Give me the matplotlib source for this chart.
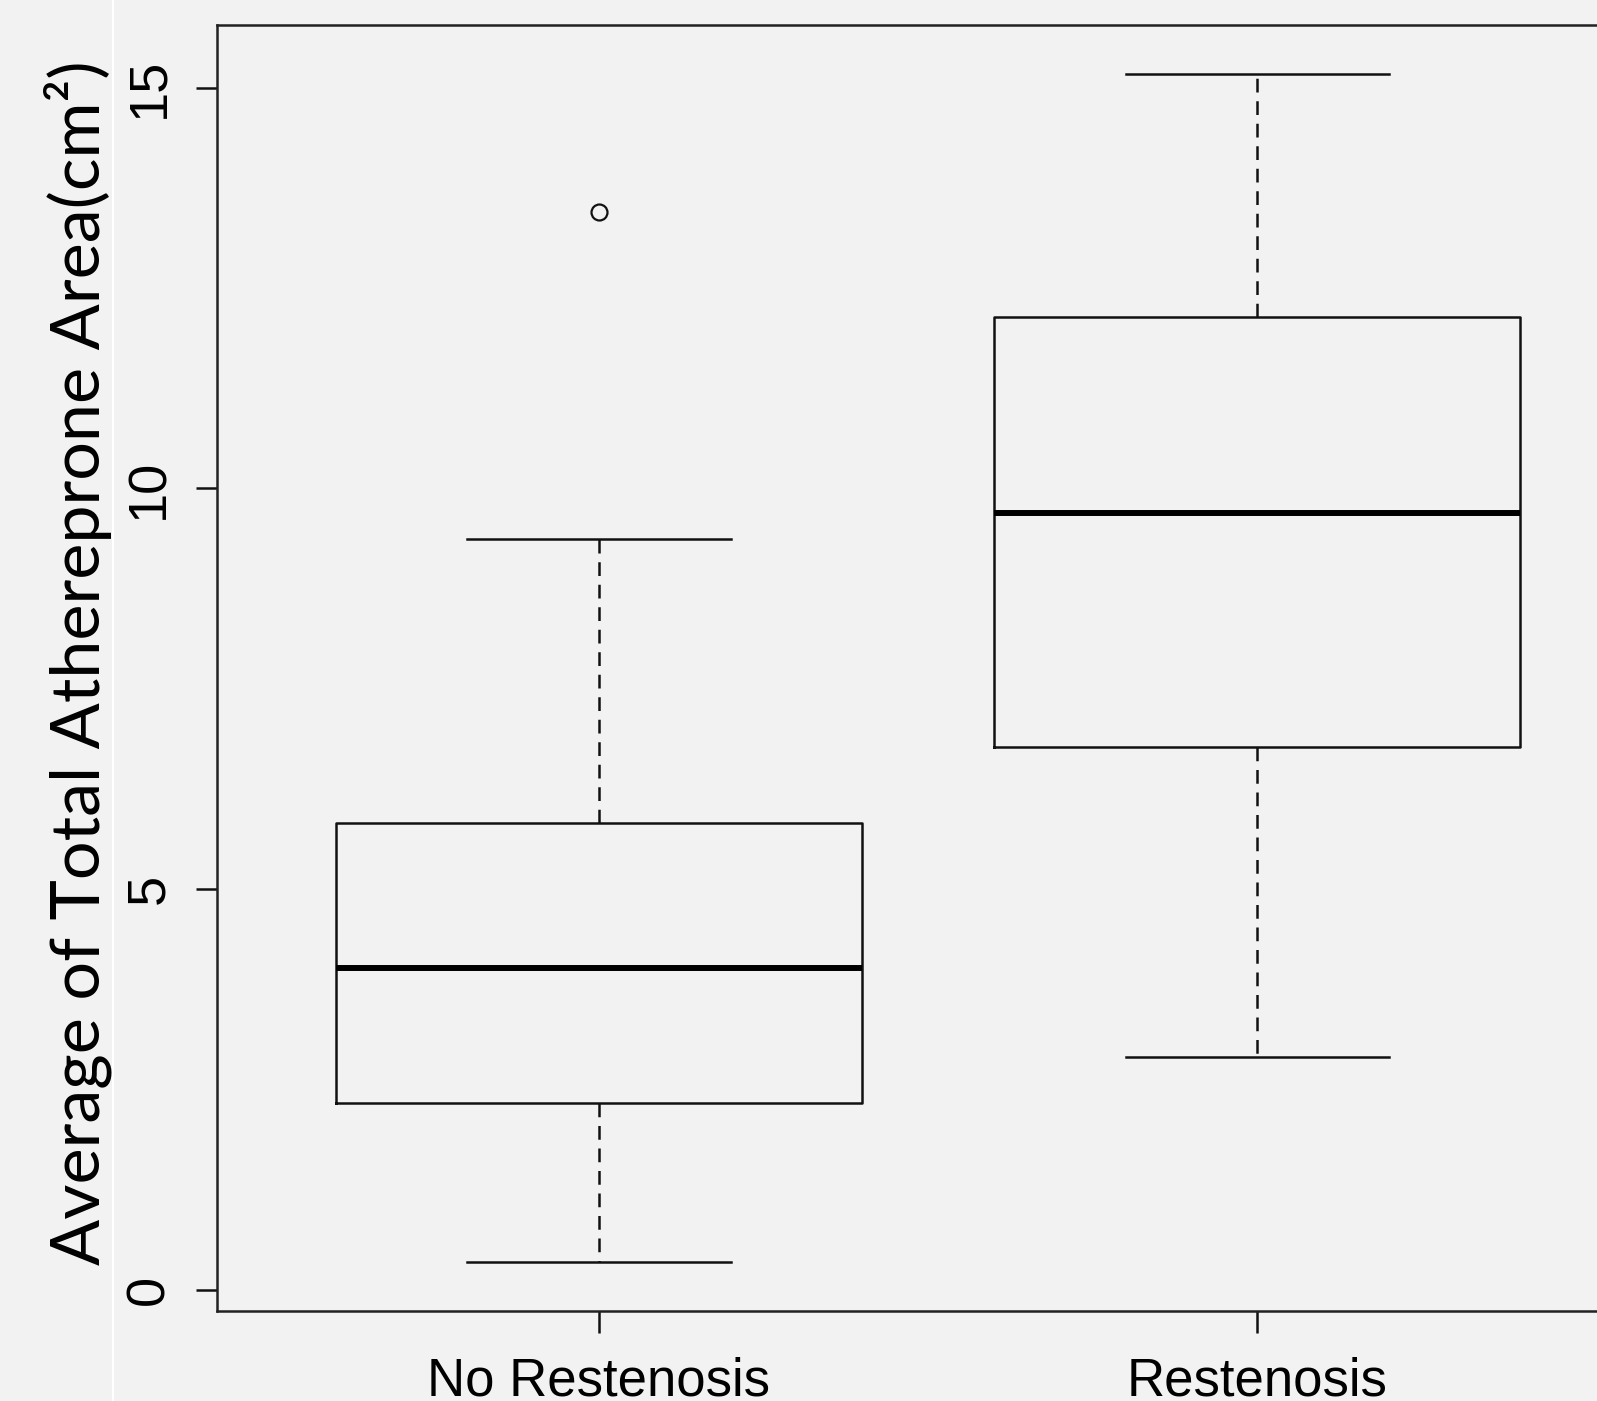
import matplotlib
matplotlib.use("Agg")
import matplotlib.pyplot as plt
from matplotlib.lines import Line2D

# ---- data ----
categories = ["No Restenosis", "Restenosis"]
whisker_low = [0.35, 2.91]
q1 = [2.34, 6.77]
median = [4.02, 9.69]
q3 = [5.83, 12.14]
whisker_high = [9.37, 15.17]
outliers = [[13.45], []]
y_ticks = [0, 5, 10, 15]
y_label = "Average of Total Athereprone Area(cm\u00b2)"

BG = "#f2f2f2"
W, H = 1597, 1401
fig = plt.figure(figsize=(W / 100, H / 100), dpi=100, facecolor=BG)

ax = fig.add_axes([217 / W, (H - 1311) / H, (1639 - 217) / W, (1311 - 25) / H])
ax.set_facecolor(BG)

stats = []
for i, name in enumerate(categories):
    stats.append(dict(label=name, whislo=whisker_low[i], q1=q1[i], med=median[i],
                      q3=q3[i], whishi=whisker_high[i], fliers=outliers[i]))

lw = 1.8
ax.bxp(stats, positions=[1, 2], widths=0.8, capwidths=0.4,
       boxprops=dict(color="#111111", linewidth=lw),
       whiskerprops=dict(color="#111111", linewidth=lw, linestyle=(0, (5.5, 3.5))),
       capprops=dict(color="#111111", linewidth=lw),
       medianprops=dict(color="black", linewidth=4.3, solid_capstyle="butt"),
       flierprops=dict(marker="o", markerfacecolor="none", markeredgecolor="#111111",
                       markersize=11.5, markeredgewidth=1.6))

ax.set_xlim(0.42, 2.58)
ax.set_ylim(-0.26, 15.78)
ax.set_yticks(y_ticks)
ax.set_yticklabels([str(t) for t in y_ticks], fontfamily="Liberation Sans", fontsize=39,
                   rotation=90, va="center")
ax.set_xticks([1, 2])
ax.set_xticklabels(categories, fontfamily="Liberation Sans", fontsize=38)
ax.tick_params(axis="y", length=15, width=lw, color="#111111", pad=16)
ax.tick_params(axis="x", length=16, width=lw, color="#111111", pad=17)
for s in ax.spines.values():
    s.set_linewidth(lw)
    s.set_color("#222222")

# y axis title
t = fig.text(100 / W, 0.527, y_label, rotation=90, rotation_mode="anchor",
             ha="center", va="baseline", fontfamily="Lato", fontsize=54, color="black")
fig.canvas.draw()
ext = t.get_window_extent()
t.set_fontsize(54 * 1205 / ext.height)

# thin white separator line
fig.add_artist(Line2D([113 / W, 113 / W], [0, 1], color="white", linewidth=1.5))

fig.savefig("out.png", dpi=100, facecolor=BG)
